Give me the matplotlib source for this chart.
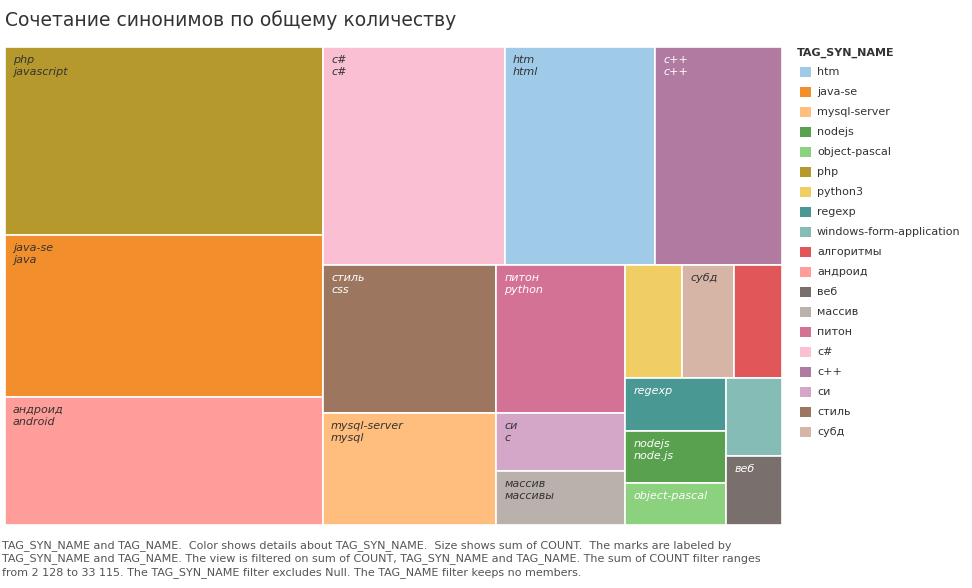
import matplotlib
matplotlib.use("Agg")
import matplotlib.pyplot as plt
from matplotlib.patches import Rectangle

syn = ["php","java-se","андроид","c#","htm","c++","стиль","mysql-server","питон",
       "си","массив","python3","субд","алгоритмы","regexp","nodejs","windows-form-application",
       "object-pascal","веб"]
tag = ["javascript","java","android","c#","html","c++","css","mysql","python",
       "c","массивы","","","","","node.js","","",""]
count = [33115,28530,22545,21975,18110,15335,14180,10730,10575,
         4145,3860,3570,3255,3005,2965,2910,2390,2350,2128]
labeled = {"php","java-se","андроид","c#","htm","c++","стиль","mysql-server","питон",
           "си","массив","субд","regexp","nodejs","object-pascal","веб"}
legend_names = ["htm","java-se","mysql-server","nodejs","object-pascal","php","python3","regexp",
                "windows-form-application","алгоритмы","андроид","веб","массив","питон","c#","c++","си","стиль","субд"]
palette = ["#A0CBE8","#F28E2B","#FFBE7D","#59A14F","#8CD17D","#B6992D","#F1CE63","#499894",
           "#86BCB6","#E15759","#FF9D9A","#79706E","#BAB0AC","#D37295","#FABFD2","#B07AA1",
           "#D4A6C8","#9D7660","#D7B5A6"]
white_text = {"c++","стиль","питон","regexp","nodejs","object-pascal","веб"}
cmap = dict(zip(legend_names, palette))

# strip structure of the treemap (groups of item indices, strip orientation)
strips = [([0,1,2],"col"), ([3,4,5],"row"), ([6,7],"col"), ([8,9,10],"col"),
          ([11,12,13],"row"), ([14,15,17],"col"), ([16,18],"col")]

W, H = 777.0, 478.0
scale = W*H/sum(count)
rects = {}
x, y, dx, dy = 0.0, 0.0, W, H
for idx, orient in strips:
    s = sum(count[i] for i in idx)*scale
    if orient == "col":
        cw = s/dy; cy = y
        for i in idx:
            h = count[i]*scale/cw; rects[i] = (x, cy, cw, h); cy += h
        x += cw; dx -= cw
    else:
        rh = s/dx; cx = x
        for i in idx:
            w = count[i]*scale/rh; rects[i] = (cx, y, w, rh); cx += w
        y += rh; dy -= rh

fig = plt.figure(figsize=(9.72, 5.88), dpi=100)
ax = fig.add_axes([5/972, 63/588, 777/972, 478/588])
ax.set_xlim(0, W); ax.set_ylim(H, 0); ax.axis("off")
for i, (s, t) in enumerate(zip(syn, tag)):
    x, y, w, h = rects[i]
    ax.add_patch(Rectangle((x, y), w, h, facecolor=cmap[s], edgecolor="white", linewidth=1.2))
    if s in labeled:
        ax.text(x+8, y+8, s + ("\n"+t if t else ""), fontsize=8, style="italic",
                color="white" if s in white_text else "#333333", va="top", ha="left", linespacing=1.25)

fig.text(5/972, 1-20/588, "Сочетание синонимов по общему количеству", fontsize=13.5, color="#333333", va="center")
fig.text(797/972, 1-53/588, "TAG_SYN_NAME", fontsize=8, fontweight="bold", color="#333333", va="center")
for k, n in enumerate(legend_names):
    yy = 72 + 20*k
    fig.patches.append(Rectangle((800/972, 1-(yy+5)/588), 11/972, 10/588, facecolor=cmap[n],
                                 transform=fig.transFigure, figure=fig))
    fig.text(817/972, 1-yy/588, n, fontsize=8, color="#333333", va="center")
foot = ("TAG_SYN_NAME and TAG_NAME.  Color shows details about TAG_SYN_NAME.  Size shows sum of COUNT.  The marks are labeled by\n"
        "TAG_SYN_NAME and TAG_NAME. The view is filtered on sum of COUNT, TAG_SYN_NAME and TAG_NAME. The sum of COUNT filter ranges\n"
        "from 2 128 to 33 115. The TAG_SYN_NAME filter excludes Null. The TAG_NAME filter keeps no members.")
fig.text(2/972, 1-540/588, foot, fontsize=8, color="#555555", va="top", linespacing=1.3)
fig.savefig("out.png", dpi=100)
